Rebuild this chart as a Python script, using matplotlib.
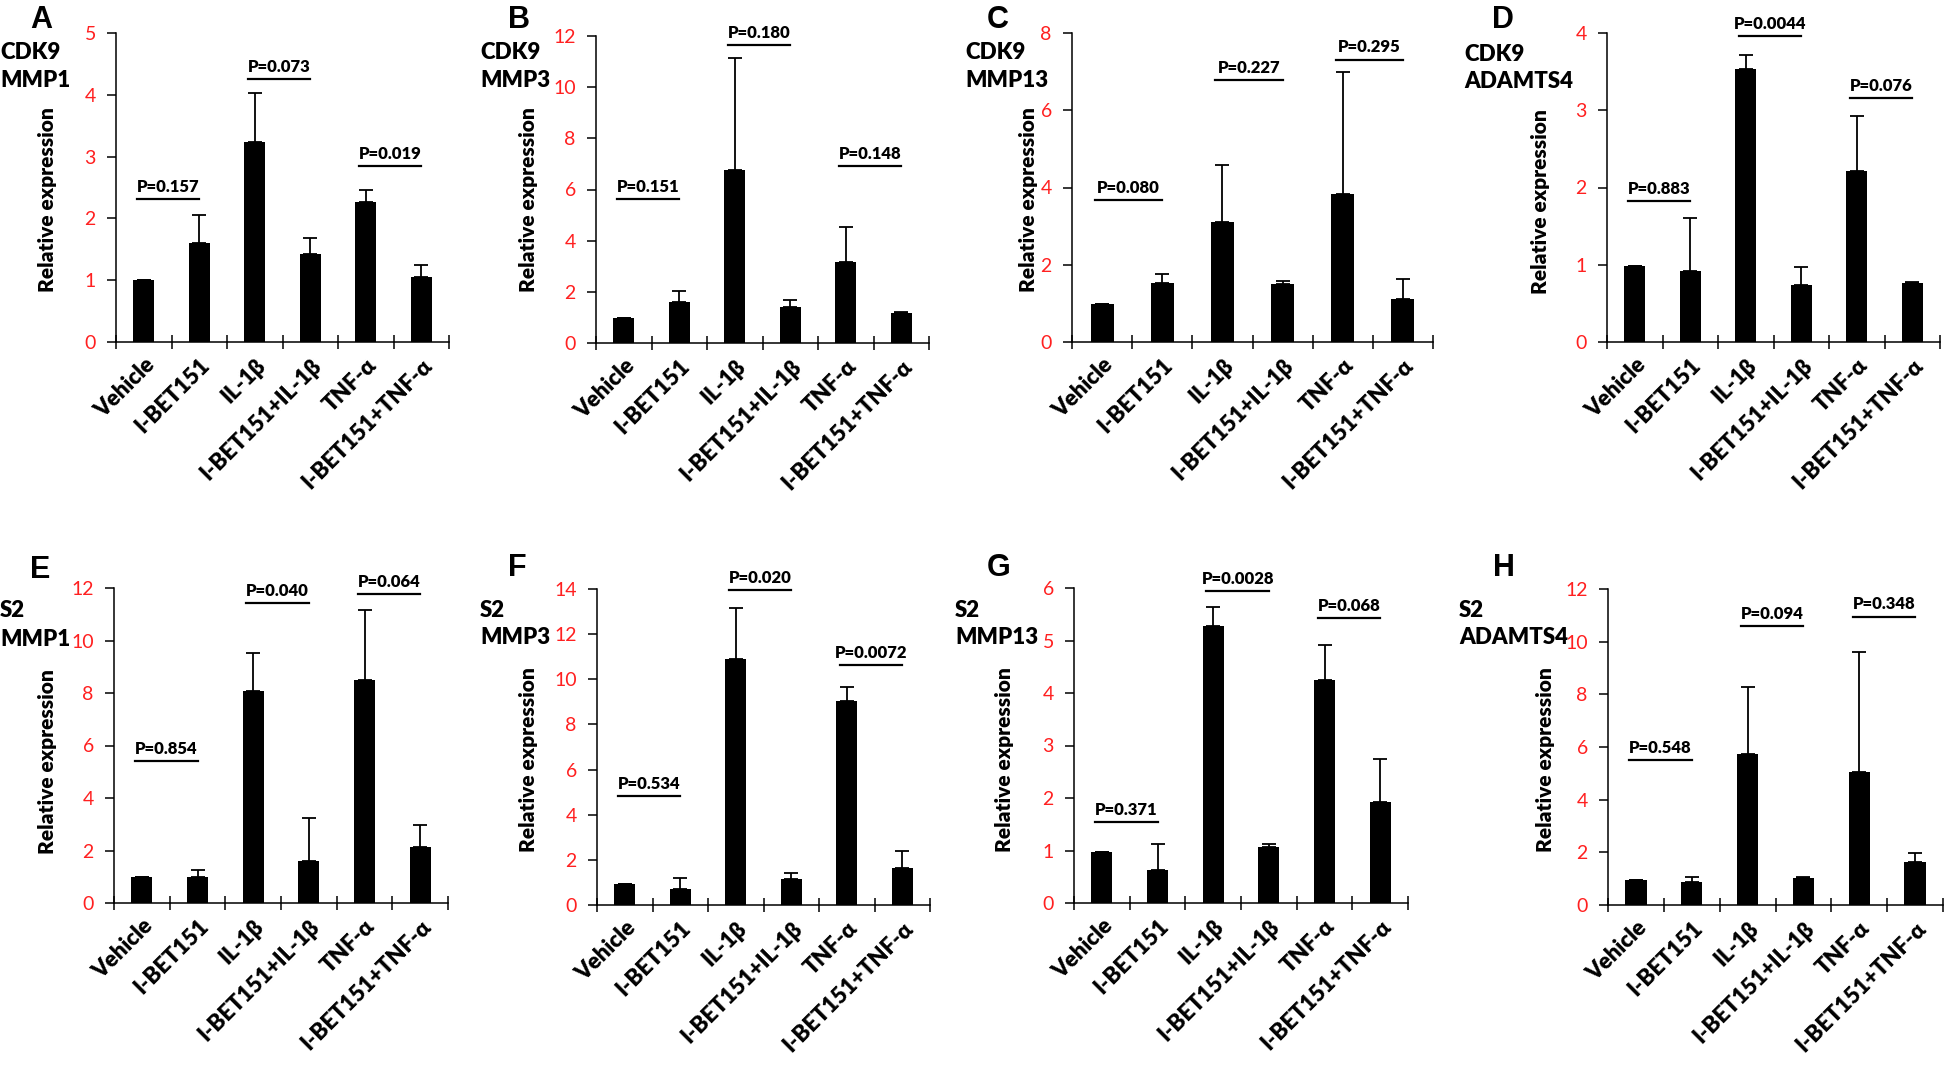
import matplotlib
matplotlib.use("Agg")
import matplotlib.pyplot as plt
import numpy as np

plt.rcParams['font.family'] = ['Lato', 'DejaVu Sans']

W, H = 1944, 1086

categories = ["Vehicle", "I-BET151", "IL-1β", "I-BET151+IL-1β", "TNF-α", "I-BET151+TNF-α"]

# ---- data (mean, upper SD) ----
A_mean = [1.00, 1.61, 3.23, 1.43, 2.27, 1.05]
A_err = [0.00, 0.44, 0.80, 0.25, 0.19, 0.19]
B_mean = [0.98, 1.59, 6.76, 1.42, 3.16, 1.17]
B_err = [0.00, 0.46, 4.38, 0.27, 1.39, 0.04]
C_mean = [0.99, 1.52, 3.11, 1.49, 3.83, 1.11]
C_err = [0.00, 0.24, 1.47, 0.10, 3.17, 0.53]
D_mean = [0.98, 0.92, 3.53, 0.74, 2.21, 0.77]
D_err = [0.00, 0.68, 0.18, 0.23, 0.71, 0.01]
E_mean = [0.98, 0.98, 8.06, 1.59, 8.50, 2.13]
E_err = [0.00, 0.29, 1.45, 1.65, 2.66, 0.85]
F_mean = [0.93, 0.72, 10.88, 1.14, 9.05, 1.64]
F_err = [0.00, 0.48, 2.26, 0.28, 0.62, 0.77]
G_mean = [0.98, 0.63, 5.28, 1.07, 4.25, 1.92]
G_err = [0.00, 0.49, 0.36, 0.05, 0.66, 0.82]
H_mean = [0.96, 0.86, 5.73, 1.04, 5.04, 1.63]
H_err = [0.00, 0.20, 2.56, 0.02, 4.57, 0.35]

A_p = ["P=0.157", "P=0.073", "P=0.019"]
B_p = ["P=0.151", "P=0.180", "P=0.148"]
C_p = ["P=0.080", "P=0.227", "P=0.295"]
D_p = ["P=0.883", "P=0.0044", "P=0.076"]
E_p = ["P=0.854", "P=0.040", "P=0.064"]
F_p = ["P=0.534", "P=0.020", "P=0.0072"]
G_p = ["P=0.371", "P=0.0028", "P=0.068"]
H_p = ["P=0.548", "P=0.094", "P=0.348"]

A_ph = [2.31, 4.25, 2.84]
B_ph = [5.62, 11.64, 6.93]
C_ph = [3.67, 6.79, 7.31]
D_ph = [1.82, 3.96, 3.16]
E_ph = [5.42, 11.43, 11.78]
F_ph = [4.82, 13.97, 10.64]
G_ph = [1.54, 5.94, 5.43]
H_ph = [5.50, 10.60, 10.95]

A_yticks = [0, 1, 2, 3, 4, 5]
B_yticks = [0, 2, 4, 6, 8, 10, 12]
C_yticks = [0, 2, 4, 6, 8]
D_yticks = [0, 1, 2, 3, 4]
E_yticks = [0, 2, 4, 6, 8, 10, 12]
F_yticks = [0, 2, 4, 6, 8, 10, 12, 14]
G_yticks = [0, 1, 2, 3, 4, 5, 6]
H_yticks = [0, 2, 4, 6, 8, 10, 12]

panel_letters = ["A", "B", "C", "D", "E", "F", "G", "H"]
cell_line = ["CDK9", "CDK9", "CDK9", "CDK9", "S2", "S2", "S2", "S2"]
genes = ["MMP1", "MMP3", "MMP13", "ADAMTS4", "MMP1", "MMP3", "MMP13", "ADAMTS4"]

# ---- layout (pixels) ----
axes_px = [
    (116, 342, 449, 33), (596, 343, 929, 36), (1072, 342, 1433, 33), (1607, 342, 1940, 33),
    (114, 903, 448, 588), (597, 905, 930, 589), (1074, 903, 1408, 588), (1608, 905, 1943, 589),
]
letter_px = [(30, 5), (508, 5), (987, 5), (1492, 5), (30, 555), (508, 553), (987, 553), (1493, 553)]
gene_px = [(0, 42, 70), (480, 42, 70), (965, 42, 70), (1464, 44, 71),
           (0, 600, 629), (480, 600, 627), (955, 600, 627), (1459, 600, 627)]
ylab_px = [(48, 200), (528, 200), (1028, 200), (1540, 202),
           (48, 762), (528, 760), (1005, 760), (1545, 760)]

means = [A_mean, B_mean, C_mean, D_mean, E_mean, F_mean, G_mean, H_mean]
errs = [A_err, B_err, C_err, D_err, E_err, F_err, G_err, H_err]
pvals = [A_p, B_p, C_p, D_p, E_p, F_p, G_p, H_p]
pheights = [A_ph, B_ph, C_ph, D_ph, E_ph, F_ph, G_ph, H_ph]
yticks = [A_yticks, B_yticks, C_yticks, D_yticks, E_yticks, F_yticks, G_yticks, H_yticks]

fig = plt.figure(figsize=(W / 100, H / 100), dpi=100)

def fx(x):
    return x / W

def fy(y):
    return 1 - y / H

x = np.arange(len(categories))
pair_starts = [0, 2, 4]
BOLD = 'heavy'

for k in range(8):
    l, b, r, t = axes_px[k]
    ax = fig.add_axes([fx(l), fy(b), (r - l) / W, (b - t) / H])
    m = np.array(means[k])
    e = np.array(errs[k])
    ax.bar(x, m, width=0.38, color='black', zorder=2)
    ax.errorbar(x, m, yerr=[np.zeros_like(e), e], fmt='none', ecolor='black',
                elinewidth=1.3, capsize=5, capthick=1.3, zorder=1)
    yt = yticks[k]
    ax.set_ylim(0, yt[-1])
    ax.set_xlim(-0.5, len(categories) - 0.5)
    ax.set_yticks(yt)
    ax.set_yticklabels([str(v) for v in yt], color='#ff2020', fontsize=14)
    ax.tick_params(axis='y', direction='out', length=6.5, width=1.1, pad=8)
    ax.set_xticks(x)
    ax.set_xticklabels(categories, rotation=45, ha='right', rotation_mode='anchor',
                       fontsize=16, fontweight=BOLD)
    ax.tick_params(axis='x', which='major', length=0, pad=9)
    ax.set_xticks(np.arange(-0.5, len(categories), 1.0), minor=True)
    ax.tick_params(axis='x', which='minor', direction='inout', length=10, width=1.1)
    for s in ['top', 'right']:
        ax.spines[s].set_visible(False)
    for s in ['left', 'bottom']:
        ax.spines[s].set_linewidth(1.1)
    for j, st in enumerate(pair_starts):
        h = pheights[k][j]
        x0, x1 = st - 0.12, st + 1.0
        ax.plot([x0, x1], [h, h], color='black', lw=1.6, clip_on=False)
        ax.annotate(pvals[k][j], xy=((x0 + x1) / 2, h), xytext=(0, 3),
                    textcoords='offset points', ha='center', va='bottom',
                    fontsize=12, fontweight=BOLD, annotation_clip=False)

    lx, ly = letter_px[k]
    fig.text(fx(lx), fy(ly), panel_letters[k], family='Liberation Sans', fontweight='bold',
             fontsize=22, ha='left', va='top')
    gx, gy1, gy2 = gene_px[k]
    fig.text(fx(gx), fy(gy1), cell_line[k], fontweight=BOLD, fontsize=16, ha='left', va='top')
    fig.text(fx(gx), fy(gy2), genes[k], fontweight=BOLD, fontsize=16, ha='left', va='top')
    yx, yy = ylab_px[k]
    fig.text(fx(yx), fy(yy), "Relative expression", rotation=90, fontweight=BOLD,
             fontsize=15, ha='center', va='center')

fig.savefig("out.png", dpi=100)
